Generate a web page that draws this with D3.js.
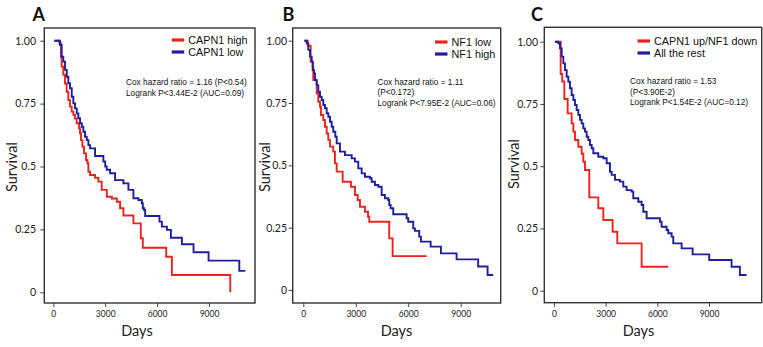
<!DOCTYPE html>
<html>
<head>
<meta charset="utf-8">
<script src="https://cdn.jsdelivr.net/npm/d3@7"></script>
<style>
  body { margin: 0; background: #fff; }
  svg { display: block; }
  .tick text { font-family: Lato, "Liberation Sans", sans-serif; fill: #222; }
  .note { font-family: "Liberation Sans", Arial, sans-serif; fill: #111; }
</style>
</head>
<body>
<div id="chart"></div>
<script>
// Kaplan-Meier curves, values: [days, survival]
const xTicks = [0, 3000, 6000, 9000];
const yTicks = [0, 0.25, 0.5, 0.75, 1];
const yTickLabels = ["0", "0.25", "0.5", "0.75", "1.00"];

const capn1High = [[60,1],[347,0.989],[444,0.936],[483,0.897],[579,0.864],[676,0.83],[772,0.797],[869,0.764],[965,0.738],[1062,0.718],[1158,0.705],[1255,0.691],[1351,0.672],[1486,0.652],[1544,0.632],[1602,0.605],[1679,0.579],[1776,0.552],[1891,0.526],[1969,0.513],[2027,0.479],[2125,0.466],[2414,0.455],[2606,0.44],[2800,0.407],[3090,0.38],[3380,0.373],[3670,0.36],[3862,0.334],[4053,0.305],[4632,0.274],[5057,0.215],[5174,0.177],[6527,0.141],[6855,0.069],[10229,0]];
const capn1Low = [[60,1],[388,0.983],[485,0.936],[579,0.917],[677,0.884],[776,0.857],[869,0.831],[967,0.811],[1065,0.777],[1158,0.751],[1256,0.731],[1355,0.711],[1448,0.692],[1546,0.672],[1644,0.658],[1737,0.638],[1835,0.618],[1934,0.605],[2027,0.585],[2125,0.572],[2414,0.542],[2895,0.52],[3000,0.5],[3090,0.487],[3283,0.473],[3572,0.446],[4053,0.433],[4343,0.407],[4632,0.374],[4922,0.367],[5118,0.354],[5174,0.334],[5250,0.327],[5309,0.303],[6137,0.281],[6276,0.261],[6566,0.248],[6797,0.217],[7434,0.191],[8106,0.159],[8975,0.126],[10752,0.085],[11099,0.085]];

const nf1Low = [[60,1],[250,0.98],[420,0.916],[537,0.896],[571,0.842],[766,0.789],[857,0.755],[954,0.735],[1011,0.702],[1143,0.682],[1240,0.655],[1337,0.628],[1429,0.602],[1526,0.575],[1714,0.555],[1811,0.508],[1909,0.475],[2251,0.434],[2726,0.414],[2954,0.381],[3109,0.361],[3240,0.334],[3526,0.314],[3700,0.294],[3771,0.274],[4914,0.207],[5108,0.136],[7051,0.136]];
const nf1High = [[60,1],[194,0.99],[286,0.963],[383,0.936],[480,0.916],[537,0.882],[611,0.869],[669,0.842],[766,0.822],[857,0.795],[954,0.775],[1051,0.762],[1143,0.742],[1240,0.729],[1337,0.709],[1429,0.695],[1526,0.675],[1623,0.655],[1714,0.635],[1830,0.615],[1909,0.588],[2097,0.555],[2383,0.541],[2766,0.528],[2954,0.515],[3143,0.488],[3337,0.468],[3526,0.454],[3811,0.448],[3909,0.434],[4097,0.421],[4286,0.414],[4480,0.381],[4668,0.368],[4857,0.361],[4914,0.341],[4994,0.328],[5143,0.304],[5908,0.288],[6000,0.274],[6286,0.247],[6383,0.237],[6628,0.214],[6726,0.194],[7280,0.174],[7869,0.147],[8765,0.123],[10000,0.094],[10537,0.06],[10857,0.06]];

const capn1UpNf1Down = [[60,1],[387,0.87],[480,0.84],[600,0.77],[793,0.712],[1025,0.672],[1122,0.639],[1219,0.605],[1412,0.578],[1605,0.55],[1702,0.518],[1799,0.485],[2050,0.375],[2572,0.331],[2862,0.284],[3404,0.237],[3675,0.19],[5088,0.096],[6635,0.096]];
const allTheRest = [[60,1],[251,0.994],[348,0.973],[445,0.94],[542,0.913],[638,0.886],[735,0.859],[832,0.839],[928,0.813],[1025,0.786],[1122,0.766],[1219,0.746],[1315,0.726],[1412,0.706],[1509,0.686],[1605,0.672],[1702,0.652],[1799,0.639],[1896,0.618],[1992,0.605],[2089,0.585],[2186,0.572],[2283,0.552],[2572,0.538],[2862,0.532],[3056,0.512],[3250,0.478],[3346,0.465],[3540,0.445],[3830,0.438],[4023,0.418],[4217,0.404],[4507,0.398],[4604,0.371],[4894,0.357],[5088,0.344],[5184,0.317],[5378,0.291],[6151,0.277],[6248,0.257],[6539,0.244],[6635,0.231],[6829,0.217],[6925,0.19],[7411,0.17],[8049,0.146],[9014,0.123],[10311,0.096],[10794,0.063],[11183,0.063]];

const RED = "#e8251c", BLUE = "#1f1f9e";

// layout of the three panels, in page pixels
const panels = [
  { letter: "A", box: [44.3, 28, 255, 303], x0: 53.3, x9000: 209, y1: 40.7, y0: 292.3,
    labelEnd: 36, survX: 12, survY: 167, daysX: 137, letterX: 32.5,
    series: [{ data: capn1High, color: RED, name: "CAPN1 high" }, { data: capn1Low, color: BLUE, name: "CAPN1 low" }],
    legend: [171.7, 40], note: [126, 85], noteLines: ["Cox hazard ratio = 1.16 (P<0.54)", "Logrank P<3.44E-2 (AUC=0.09)"] },
  { letter: "B", box: [292.7, 28, 500.7, 303], x0: 303.3, x9000: 460.7, y1: 40.7, y0: 290,
    labelEnd: 287, survX: 265, survY: 167, daysX: 396.5, letterX: 282.5,
    series: [{ data: nf1Low, color: RED, name: "NF1 low" }, { data: nf1High, color: BLUE, name: "NF1 high" }],
    legend: [435, 42], note: [377.5, 84.5], noteLines: ["Cox hazard ratio = 1.11", "(P<0.172)", "Logrank P<7.95E-2 (AUC=0.06)"] },
  { letter: "C", box: [544.3, 27.3, 761.7, 302.7], x0: 554, x9000: 709, y1: 41.7, y0: 290.7,
    labelEnd: 538, survX: 514, survY: 164, daysX: 638.5, letterX: 531,
    series: [{ data: capn1UpNf1Down, color: RED, name: "CAPN1 up/NF1 down" }, { data: allTheRest, color: BLUE, name: "All the rest" }],
    legend: [637.5, 41], note: [630, 84], noteLines: ["Cox hazard ratio = 1.53", "(P<3.90E-2)", "Logrank P<1.54E-2 (AUC=0.12)"] }
];

const svg = d3.select("#chart").append("svg")
  .attr("width", 763)
  .attr("height", 347);

panels.forEach(p => {
  const [bl, bt, br, bb] = p.box;
  const x = d3.scaleLinear().domain([0, 9000]).range([p.x0, p.x9000]);
  const y = d3.scaleLinear().domain([0, 1]).range([p.y0, p.y1]);
  const g = svg.append("g");

  // y axis
  const ya = g.append("g")
    .attr("transform", `translate(${bl},0)`)
    .call(d3.axisLeft(y).tickValues(yTicks).tickSize(4).tickPadding(bl - p.labelEnd - 4)
      .tickFormat((d, i) => yTickLabels[i]));
  ya.select(".domain").remove();
  ya.selectAll("line").attr("stroke", "#444");
  ya.selectAll("text").style("font-size", "10.5px");

  // x axis
  const xa = g.append("g")
    .attr("transform", `translate(0,${bb})`)
    .call(d3.axisBottom(x).tickValues(xTicks).tickSize(4).tickPadding(4).tickFormat(d3.format("d")));
  xa.select(".domain").remove();
  xa.selectAll("line").attr("stroke", "#444");
  xa.selectAll("text").style("font-size", "8.5px");

  // frame
  g.append("rect")
    .attr("x", bl).attr("y", bt)
    .attr("width", br - bl).attr("height", bb - bt)
    .attr("fill", "none")
    .attr("stroke", "#333")
    .attr("stroke-width", 1.4);

  // curves
  const line = d3.line()
    .x(d => x(d[0]))
    .y(d => y(d[1]))
    .curve(d3.curveStepAfter);
  p.series.forEach(s => {
    g.append("path")
      .datum(s.data)
      .attr("d", line)
      .attr("fill", "none")
      .attr("stroke", s.color)
      .attr("stroke-width", 1.9);
  });

  // legend
  p.series.forEach((s, i) => {
    const ly = p.legend[1] + i * 12;
    g.append("line")
      .attr("x1", p.legend[0]).attr("x2", p.legend[0] + 12.5)
      .attr("y1", ly).attr("y2", ly)
      .attr("stroke", s.color).attr("stroke-width", 3.2);
    g.append("text")
      .attr("class", "note")
      .attr("x", p.legend[0] + 16.5).attr("y", ly + 4)
      .style("font-size", "10.8px")
      .text(s.name);
  });

  // stats note
  p.noteLines.forEach((t, i) => {
    g.append("text")
      .attr("class", "note")
      .attr("x", p.note[0]).attr("y", p.note[1] + i * 10.5)
      .style("font-size", "8.3px")
      .text(t);
  });

  // axis titles
  g.append("text")
    .attr("x", p.daysX).attr("y", 336)
    .attr("text-anchor", "middle")
    .style("font-family", "Lato, sans-serif")
    .style("font-size", "14.5px")
    .attr("fill", "#222")
    .text("Days");
  g.append("text")
    .attr("transform", `translate(${p.survX + 5},${p.survY}) rotate(-90)`)
    .attr("text-anchor", "middle")
    .style("font-family", "Lato, sans-serif")
    .style("font-size", "14.5px")
    .attr("fill", "#222")
    .text("Survival");

  // panel letter
  g.append("text")
    .attr("x", p.letterX).attr("y", 21)
    .style("font-family", "Lato, sans-serif")
    .style("font-weight", "bold")
    .style("font-size", "18px")
    .attr("fill", "#111")
    .text(p.letter);
});
</script>
</body>
</html>
